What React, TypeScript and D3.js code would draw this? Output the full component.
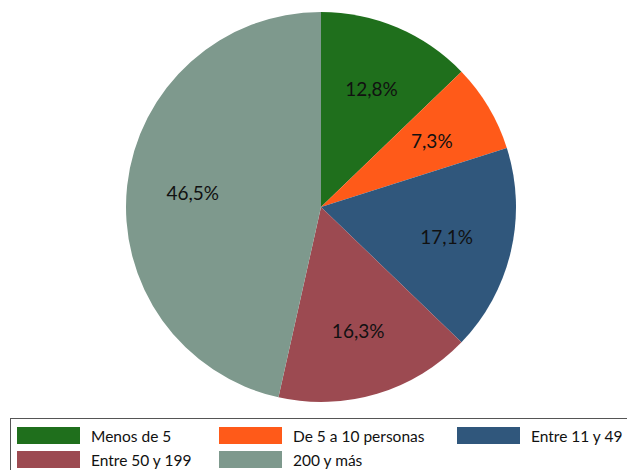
import { useEffect, useRef } from 'react'
import * as d3 from 'd3'

const categories = ['Menos de 5', 'De 5 a 10 personas', 'Entre 11 y 49', 'Entre 50 y 199', '200 y más']
const shares = [12.8, 7.3, 17.1, 16.3, 46.5]
const colors = ['#1f6f1c', '#ff5a19', '#30577c', '#9c4a51', '#7e998d']

export default function App() {
  const svgRef = useRef<SVGSVGElement>(null)

  useEffect(() => {
    if (!svgRef.current) return
    const width = 627
    const cx = 321
    const cy = 207
    const radius = 195

    const svg = d3.select(svgRef.current)
    svg.selectAll('*').remove()

    const data = categories.map((name, i) => ({ name, value: shares[i], color: colors[i] }))

    const pie = d3.pie<{ name: string; value: number; color: string }>()
      .sort(null)
      .value(d => d.value)
    const arc = d3.arc<d3.PieArcDatum<{ name: string; value: number; color: string }>>()
      .innerRadius(0)
      .outerRadius(radius)
    const labelArc = d3.arc<d3.PieArcDatum<{ name: string; value: number; color: string }>>()
      .innerRadius(129)
      .outerRadius(129)

    const g = svg.append('g').attr('transform', `translate(${cx},${cy})`)
    const arcs = pie(data)

    g.selectAll('path')
      .data(arcs)
      .join('path')
      .attr('d', arc)
      .attr('fill', d => d.data.color)

    g.selectAll('text')
      .data(arcs)
      .join('text')
      .attr('transform', d => `translate(${labelArc.centroid(d)})`)
      .attr('text-anchor', 'middle')
      .attr('dy', '0.38em')
      .style('font', '19px Lato, "Noto Sans", sans-serif')
      .attr('fill', '#111')
      .text(d => `${d.data.value.toFixed(1).replace('.', ',')}%`)

    // Legend
    const legend = svg.append('g')
    legend.append('rect')
      .attr('x', 10.5)
      .attr('y', 418.5)
      .attr('width', width)
      .attr('height', 60)
      .attr('fill', 'white')
      .attr('stroke', '#555')
      .attr('stroke-width', 1)

    const colX = [17, 219, 457]
    const rowY = [427, 451]
    data.forEach((d, i) => {
      const col = i % 3
      const row = Math.floor(i / 3)
      const item = legend.append('g').attr('transform', `translate(${colX[col]},${rowY[row]})`)
      item.append('rect')
        .attr('width', 63)
        .attr('height', 17)
        .attr('fill', d.color)
      item.append('text')
        .attr('x', 74)
        .attr('y', 9)
        .attr('dy', '0.36em')
        .style('font', '15.5px Lato, "Noto Sans", sans-serif')
        .attr('fill', '#111')
        .text(d.name)
    })

    return () => {
      svg.selectAll('*').remove()
    }
  }, [])

  return (
    <svg
      ref={svgRef}
      width={627}
      height={470}
      style={{ position: 'absolute', left: 0, top: 0, background: 'white' }}
    />
  )
}
